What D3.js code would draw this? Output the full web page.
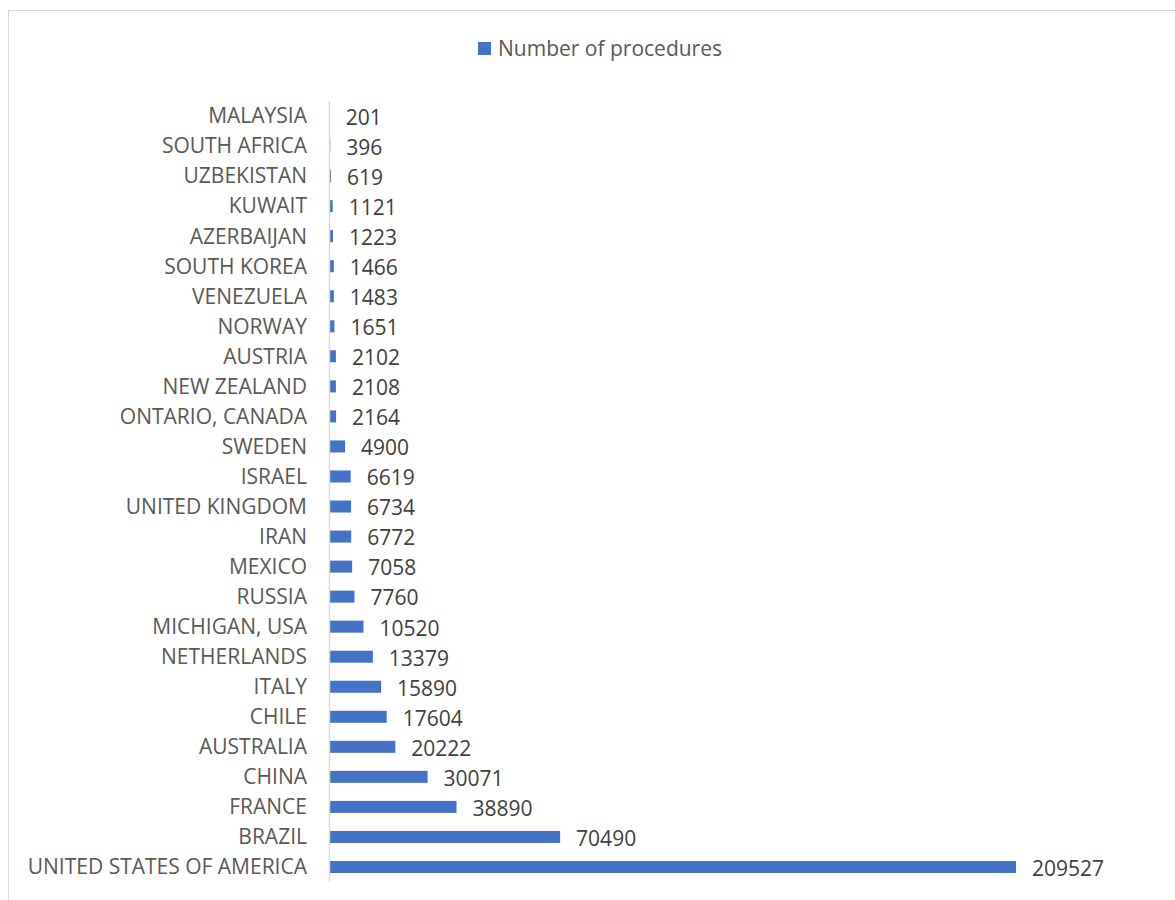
<!DOCTYPE html>
<html>
<head>
<meta charset="utf-8">
<title>Number of procedures</title>
<style>
  body { margin: 0; background: #fff; }
  svg text { font-family: "Open Sans", "Noto Sans", sans-serif; }
</style>
</head>
<body>
<div id="container"></div>
<script src="https://cdn.jsdelivr.net/npm/d3@7"></script>
<script>
var countries = ["MALAYSIA", "SOUTH AFRICA", "UZBEKISTAN", "KUWAIT", "AZERBAIJAN", "SOUTH KOREA",
  "VENEZUELA", "NORWAY", "AUSTRIA", "NEW ZEALAND", "ONTARIO, CANADA", "SWEDEN", "ISRAEL",
  "UNITED KINGDOM", "IRAN", "MEXICO", "RUSSIA", "MICHIGAN, USA", "NETHERLANDS", "ITALY",
  "CHILE", "AUSTRALIA", "CHINA", "FRANCE", "BRAZIL", "UNITED STATES OF AMERICA"];
var procedures = [201, 396, 619, 1121, 1223, 1466, 1483, 1651, 2102, 2108, 2164, 4900, 6619,
  6734, 6772, 7058, 7760, 10520, 13379, 15890, 17604, 20222, 30071, 38890, 70490, 209527];
var seriesName = "Number of procedures";

var W = 1175, H = 900;
var barColor = "#4472C4";
var fs = "21px";

var data = countries.map(function(c, i) { return {name: c, value: procedures[i]}; });

var svg = d3.select("#container").append("svg")
  .attr("width", W)
  .attr("height", H);

// chart frame
svg.append("rect")
  .attr("x", 8.5).attr("y", 10.5)
  .attr("width", W).attr("height", H - 3)
  .attr("fill", "#fff")
  .attr("stroke", "#d9d9d9")
  .attr("stroke-width", 1);

var x = d3.scaleLinear()
  .domain([0, d3.max(procedures)])
  .range([329, 1016]);

var y = d3.scaleBand()
  .domain(countries)
  .range([101, 882])
  .paddingInner(0.6)
  .paddingOuter(0.3);

// bars
svg.selectAll(".bar")
  .data(data)
  .enter().append("rect")
  .attr("class", "bar")
  .attr("x", x(0))
  .attr("y", function(d) { return y(d.name) + y.bandwidth() / 2 - 6; })
  .attr("width", function(d) { return x(d.value) - x(0); })
  .attr("height", 12)
  .attr("fill", barColor);

// category axis
var yAxis = d3.axisLeft(y).tickSize(0).tickPadding(22);
var gy = svg.append("g")
  .attr("transform", "translate(" + x(0) + ",0)")
  .call(yAxis);
gy.select(".domain")
  .attr("d", "M0.5," + 101 + "V" + 882)
  .attr("stroke", "#d9d9d9")
  .attr("stroke-width", 1.5);
gy.selectAll(".tick text")
  .attr("fill", "#595959")
  .attr("dy", "0.35em")
  .style("font-size", fs)
  .style("font-family", "'Open Sans', sans-serif");

// value labels
svg.selectAll(".val")
  .data(data)
  .enter().append("text")
  .attr("class", "val")
  .attr("x", function(d) { return x(d.value) + 16; })
  .attr("y", function(d) { return y(d.name) + y.bandwidth() / 2 + 1.5; })
  .attr("dy", "0.35em")
  .attr("fill", "#404040")
  .style("font-size", fs)
  .text(function(d) { return d.value; });

// legend
var lg = svg.append("g").attr("transform", "translate(478,42)");
lg.append("rect")
  .attr("width", 13).attr("height", 13)
  .attr("fill", barColor);
lg.append("text")
  .attr("x", 20).attr("y", 6.5)
  .attr("dy", "0.35em")
  .attr("fill", "#595959")
  .style("font-size", fs)
  .text(seriesName);
</script>
</body>
</html>
